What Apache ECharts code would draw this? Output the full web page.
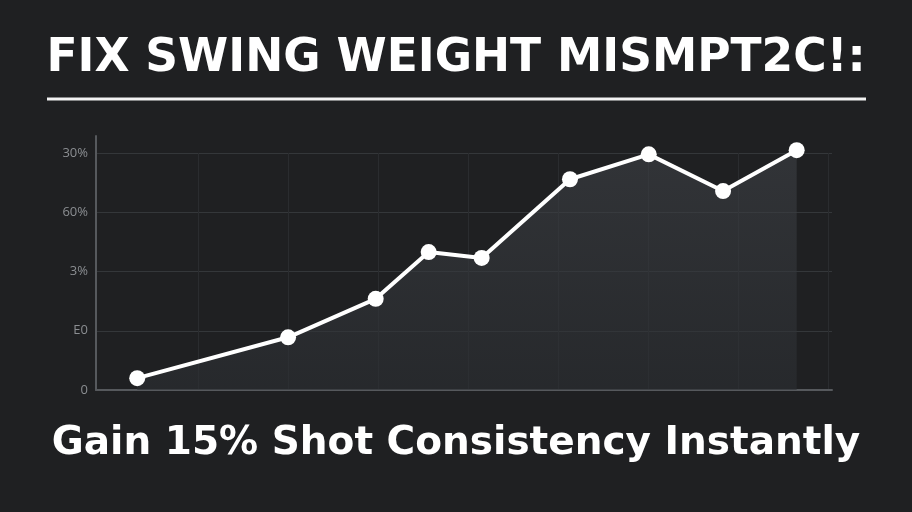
<!DOCTYPE html>
<html>
<head>
<meta charset="utf-8">
<script src="https://cdn.jsdelivr.net/npm/echarts@6/dist/echarts.min.js"></script>
<style>
html,body{margin:0;padding:0;background:#1f2022;}
#chart{width:912px;height:512px;}
</style>
</head>
<body>
<div id="chart"></div>
<script>
// ---- data ----
const titleText = 'FIX SWING WEIGHT MISMPT2C!:';
const subtitleText = 'Gain 15% Shot Consistency Instantly';
const yTickLabels = ['0', 'E0', '3%', '60%', '30%'];
const xValues = [5.6, 26.1, 38.0, 45.2, 52.4, 64.4, 75.1, 85.2, 95.2];
const yValues = [0.20, 0.89, 1.54, 2.33, 2.23, 3.56, 3.98, 3.36, 4.05];

const seriesData = xValues.map((x, i) => [x, yValues[i]]);

const chart = echarts.init(document.getElementById('chart'), null, {renderer: 'canvas'});
chart.setOption({
  backgroundColor: '#1f2022',
  animation: false,
  title: [{
    text: titleText,
    left: 'center',
    top: 31,
    textStyle: {color: '#ffffff', fontSize: 45.5, fontWeight: 'bold', fontFamily: 'DejaVu Sans'}
  }, {
    text: subtitleText,
    left: 'center',
    top: 419,
    textStyle: {color: '#ffffff', fontSize: 39, fontWeight: 'bold', fontFamily: 'DejaVu Sans'}
  }],
  graphic: [{
    type: 'line',
    shape: {x1: 47, y1: 99, x2: 866, y2: 99},
    style: {stroke: '#f2f2f2', lineWidth: 3}
  }],
  grid: [
    {left: 96, right: 80, top: 136, bottom: 122},
    {left: 198, right: 84, top: 153, bottom: 122}
  ],
  xAxis: [{
    type: 'value', gridIndex: 0, min: 0, max: 100,
    axisLine: {show: true, lineStyle: {color: '#56595d', width: 2}},
    axisTick: {show: false}, axisLabel: {show: false}, splitLine: {show: false}
  }, {
    type: 'value', gridIndex: 1, min: 0, max: 630, interval: 90,
    axisLine: {show: false}, axisTick: {show: false}, axisLabel: {show: false},
    splitLine: {show: true, lineStyle: {color: '#2a2c2f', width: 1}}
  }],
  yAxis: [{
    type: 'value', gridIndex: 0, min: 0, max: 4.29, interval: 1,
    axisLine: {show: true, lineStyle: {color: '#56595d', width: 2}},
    axisTick: {show: false},
    axisLabel: {
      color: '#8b8e92', fontSize: 13, fontFamily: 'Open Sans', margin: 8,
      formatter: v => (Math.abs(v - Math.round(v)) < 1e-6 ? (yTickLabels[Math.round(v)] || '') : '')
    },
    splitLine: {show: true, showMaxLine: false, showMinLine: false, lineStyle: {color: '#34373a', width: 1}}
  }, {
    type: 'value', gridIndex: 1, min: 0, max: 1, show: false
  }],
  series: [{
    type: 'line',
    xAxisIndex: 0, yAxisIndex: 0,
    data: seriesData,
    symbol: 'circle',
    symbolSize: 16,
    itemStyle: {color: '#ffffff'},
    lineStyle: {color: '#ffffff', width: 4},
    areaStyle: {
      color: new echarts.graphic.LinearGradient(0, 0, 0, 1, [
        {offset: 0, color: 'rgba(62,65,70,0.85)'},
        {offset: 1, color: 'rgba(44,47,51,0.85)'}
      ])
    },
    z: 5
  }]
});
</script>
</body>
</html>
